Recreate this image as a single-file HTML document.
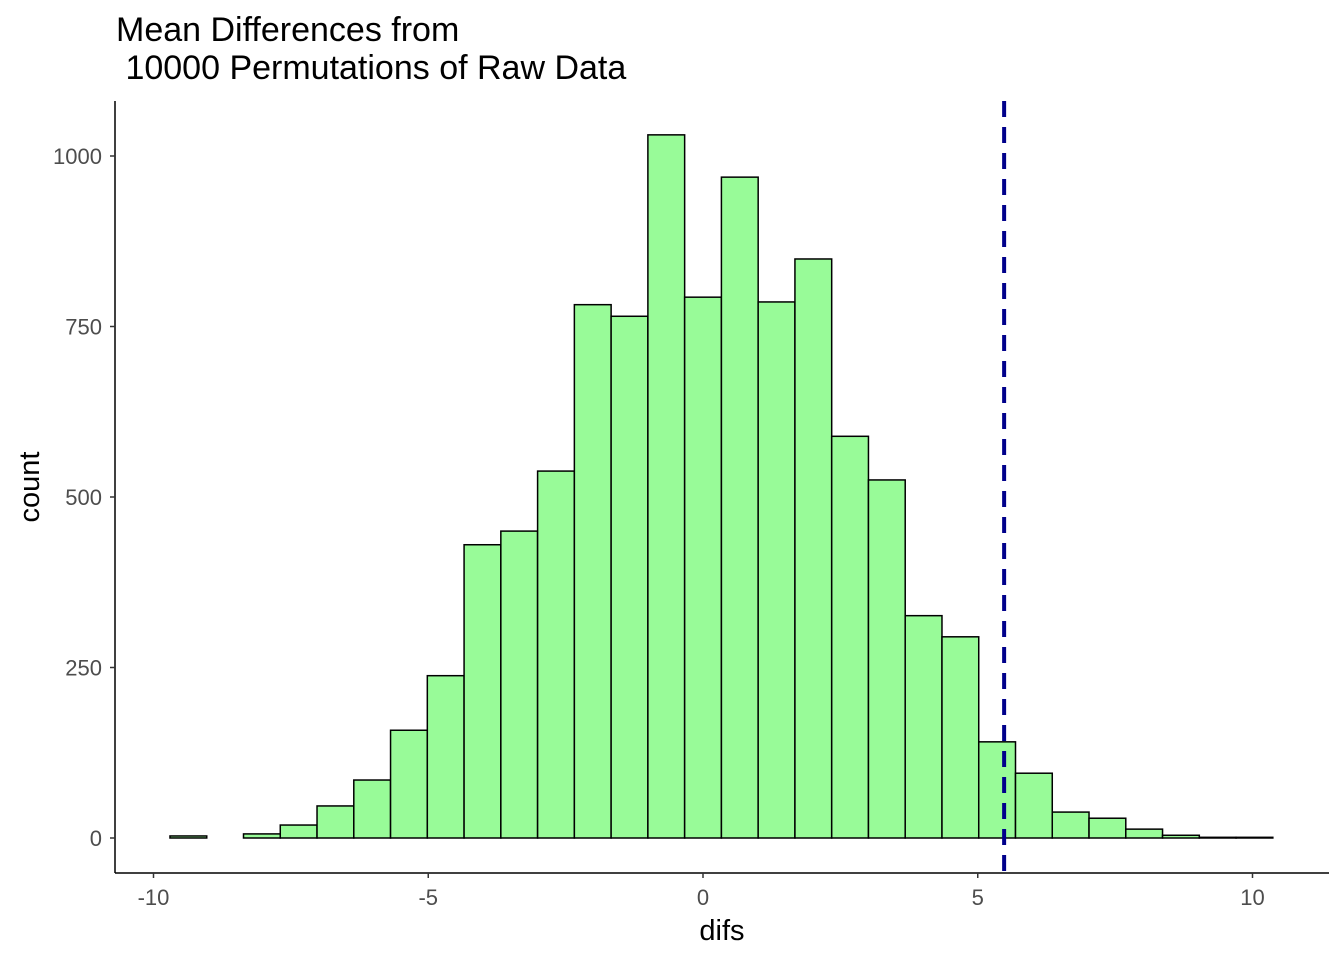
<!DOCTYPE html>
<html><head><meta charset="utf-8"><style>
body{margin:0;background:#fff}
svg{display:block;font-family:"Liberation Sans",Arial,sans-serif}
</style></head><body>
<svg id="chart" width="1344" height="960">
<text x="116" y="41" font-size="34" fill="#000">Mean Differences from</text>
<text x="116" y="79" font-size="34" fill="#000" xml:space="preserve"> 10000 Permutations of Raw Data</text>
<g id="bars"></g>
<g id="axes"></g>
<text x="722" y="940" font-size="29" text-anchor="middle">difs</text>
<text transform="translate(39,487) rotate(-90)" font-size="29" text-anchor="middle">count</text>
</svg>
<script>
const counts=[3,0,6,19,47,85,158,238,430,450,538,782,765,1031,793,969,786,849,589,525,326,295,141,95,38,29,13,4,1,1];
const binStart=-9.70;
const binWidth=0.669;
const xTicks=[-10,-5,0,5,10];
const yTicks=[0,250,500,750,1000];
const observed=5.48;
const X=v=>703+v*54.95;
const Y=v=>838-v*0.682;
const ns="http://www.w3.org/2000/svg";
const bars=document.getElementById('bars');
counts.forEach((c,i)=>{
  const r=document.createElementNS(ns,'rect');
  const x0=X(binStart+i*binWidth),x1=X(binStart+(i+1)*binWidth);
  r.setAttribute('x',x0);r.setAttribute('width',x1-x0);
  r.setAttribute('y',Y(c));r.setAttribute('height',Y(0)-Y(c));
  r.setAttribute('fill','#98fb98');r.setAttribute('stroke','#000');r.setAttribute('stroke-width','1.5');
  
  
  bars.appendChild(r);
});
const ax=document.getElementById('axes');
function add(tag,attrs,txt){const e=document.createElementNS(ns,tag);for(const k in attrs)e.setAttribute(k,attrs[k]);if(txt!==undefined)e.textContent=txt;ax.appendChild(e);return e;}
const vl=add('line',{x1:X(observed),x2:X(observed),y1:101,y2:873,stroke:'#00008b','stroke-width':4,'stroke-dasharray':'16,10'});


const ya=add('line',{x1:115,x2:115,y1:101,y2:873,stroke:'#000','stroke-width':1.5});


const xa=add('line',{x1:115,x2:1329,y1:873,y2:873,stroke:'#000','stroke-width':1.5});


xTicks.forEach(t=>{
  add('line',{x1:X(t),x2:X(t),y1:873,y2:878,stroke:'#333','stroke-width':1.5});
  const l=add('text',{x:X(t),y:905,'font-size':22,'text-anchor':'middle',fill:'#4d4d4d'},t);
  
  
});
yTicks.forEach(t=>{
  add('line',{x1:110,x2:115,y1:Y(t),y2:Y(t),stroke:'#333','stroke-width':1.5});
  const l=add('text',{x:102,y:Y(t)+8,'font-size':22,'text-anchor':'end',fill:'#4d4d4d'},t);
  
  
});
</script>
</body></html>
